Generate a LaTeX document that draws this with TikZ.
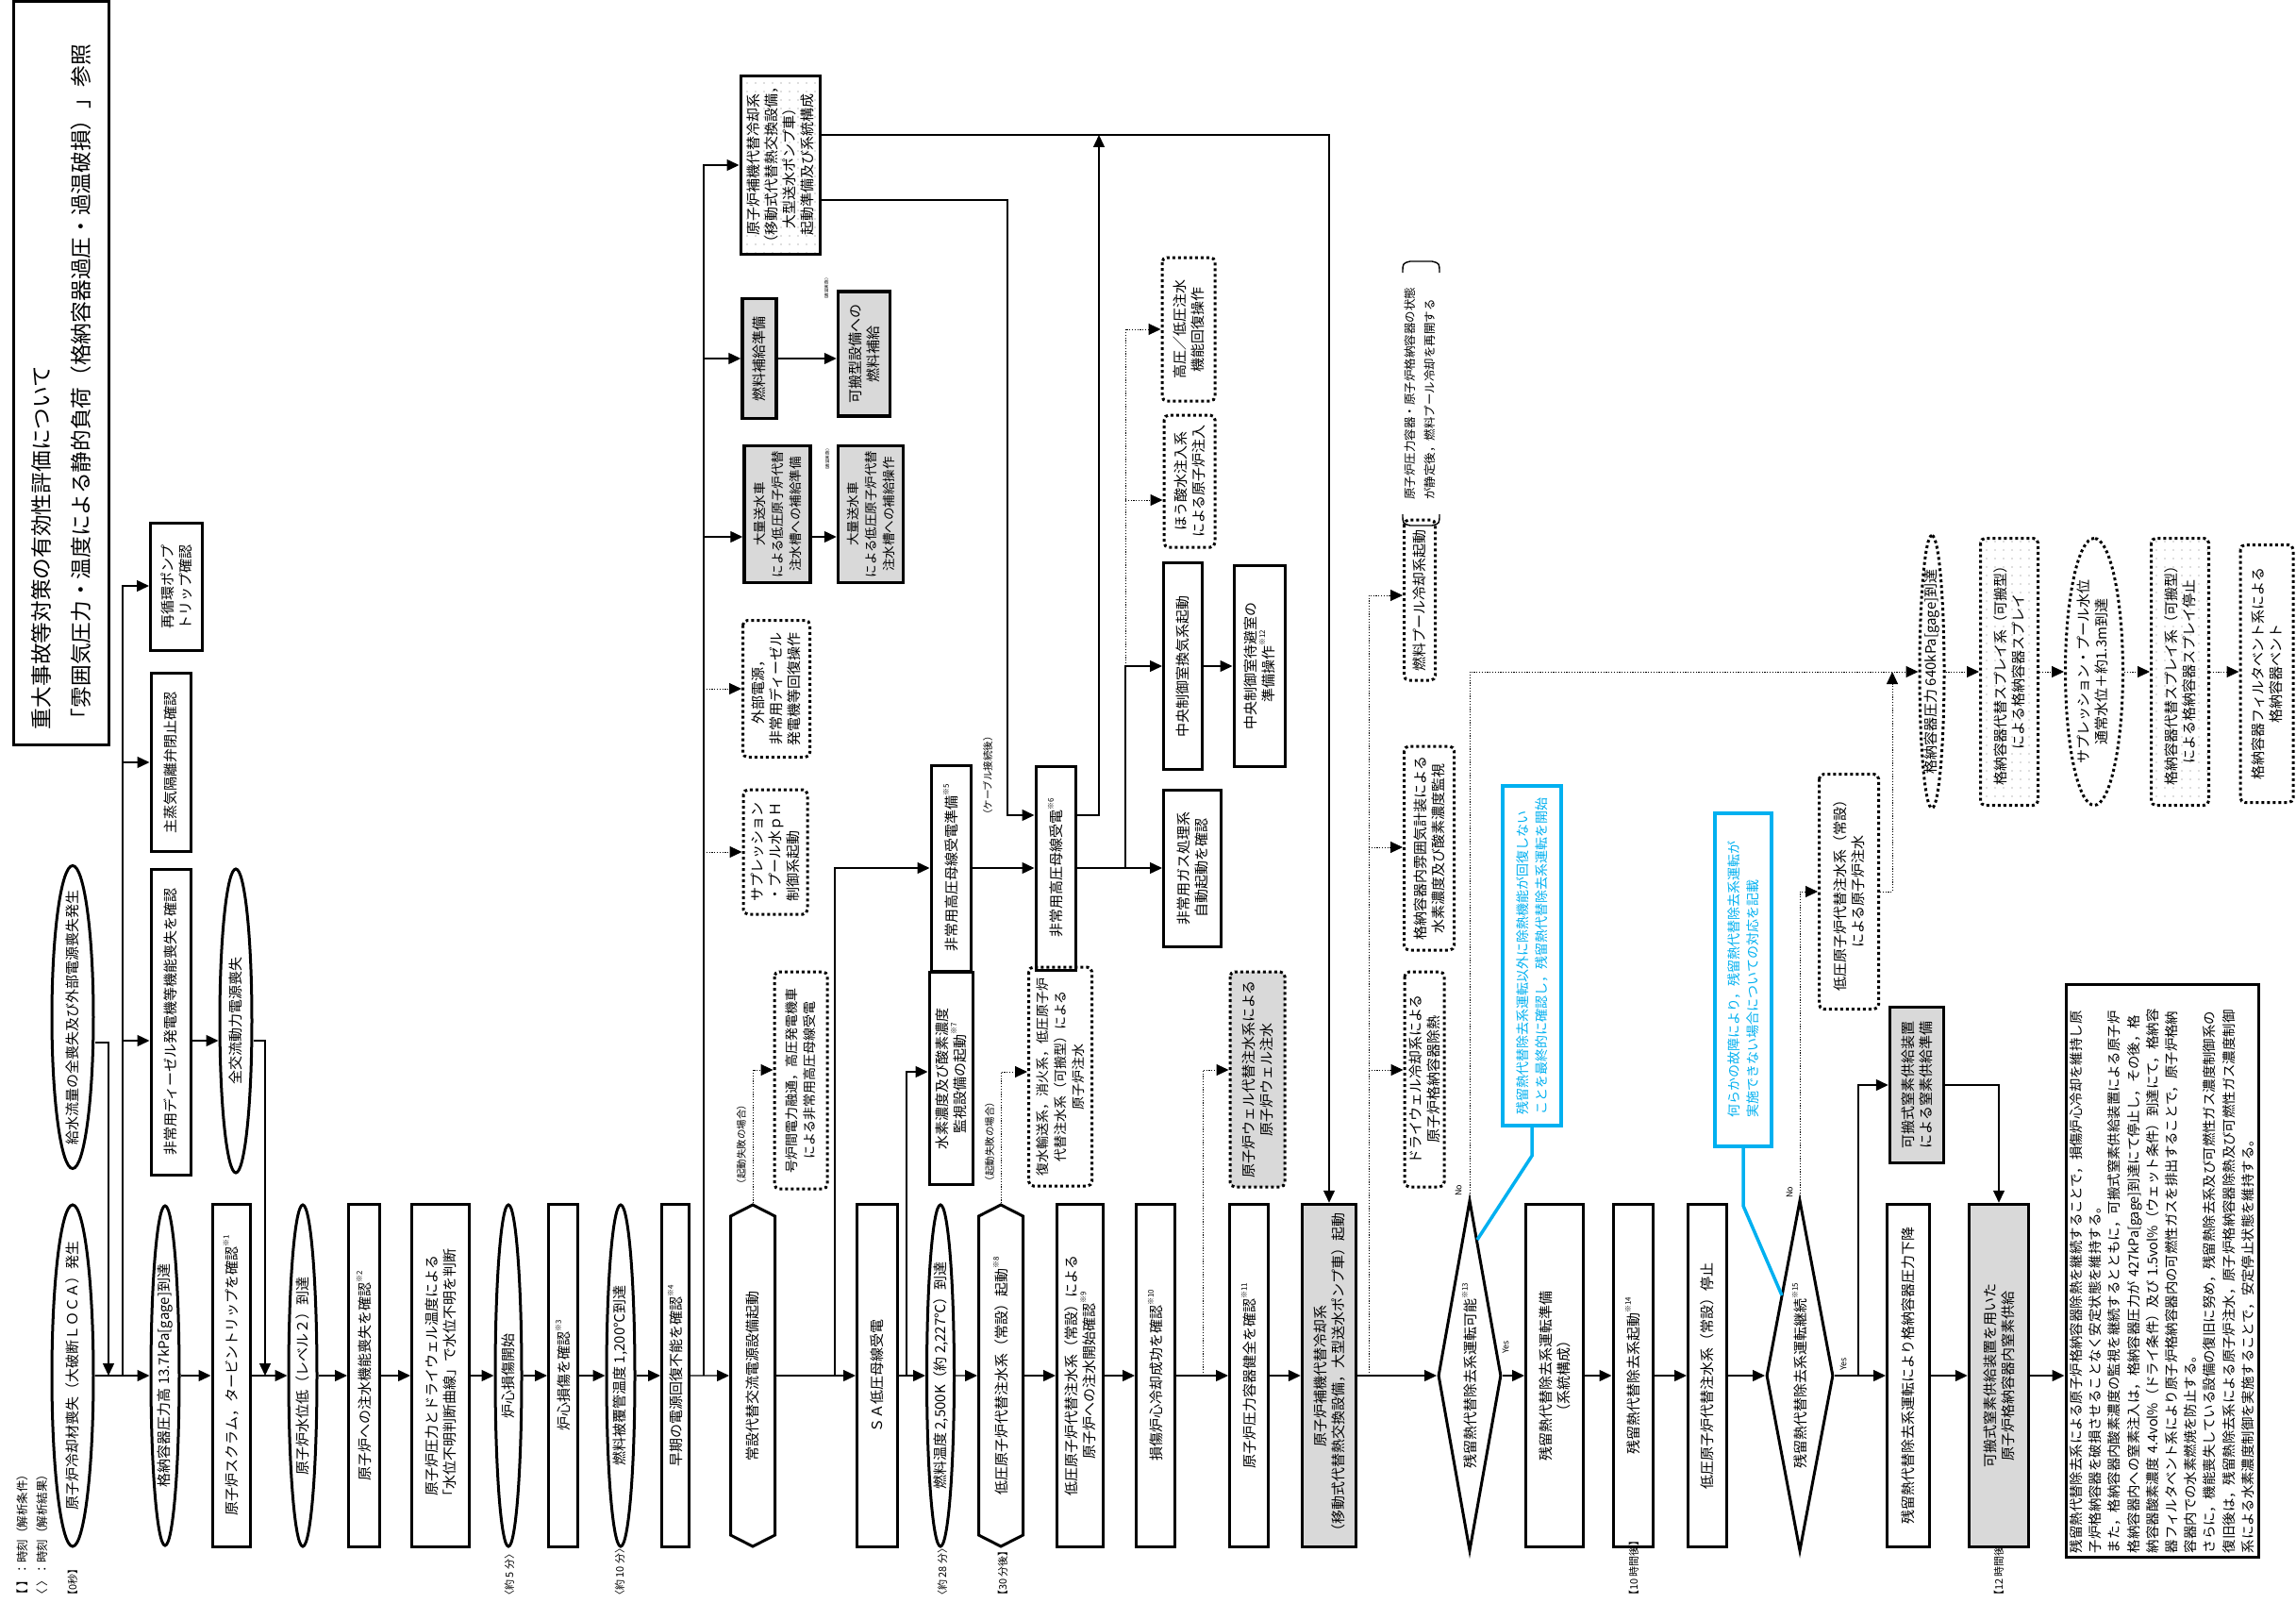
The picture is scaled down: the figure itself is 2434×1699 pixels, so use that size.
\documentclass[tikz,border=0pt]{standalone}
\usepackage{fontspec}
\setmainfont{Noto Sans CJK JP}
\usetikzlibrary{shapes.geometric,shapes.symbols,arrows.meta,patterns.meta}
\definecolor{gfill}{RGB}{217,217,217}
\definecolor{cblue}{RGB}{0,176,240}
\newcommand\zw[1]{\makebox[0pt]{#1}}
\newcommand\fnm[1]{\raisebox{0.6em}{\fontsize{8}{8}\selectfont ※#1}}
\newcommand\fsz[2]{\fontsize{#1}{#2}\selectfont}
\begin{document}
\begin{tikzpicture}[x=1pt,y=-1pt,
 wh/.style 2 args={minimum height=#1pt, minimum width=#2pt},
 base/.style={rotate=90, inner sep=1pt, font=\fsz{15}{19}},
 bx/.style={base, rectangle, draw, line width=3pt, align=center},
 gbx/.style={bx, fill=gfill, line width=3.5pt},
 dbx/.style={bx, rounded corners=5pt, dash pattern=on 3pt off 3pt},
 pbx/.style={pattern={Dots[distance=9pt,radius=0.6pt]}, pattern color=black!55},
 elp/.style={base, ellipse, draw, line width=3pt},
 delp/.style={elp, dash pattern=on 3pt off 3pt},
 hexa/.style={base, signal, signal to=east and west, signal pointer angle=126, draw, line width=3pt},
 dia/.style={base, diamond, draw, line width=3pt},
 blbx/.style={bx, draw=cblue, text=cblue, line width=4pt, align=left, font=\fsz{14}{20}},
 ln/.style={line width=1.4pt},
 arr/.style={ln, -{Triangle[length=13pt,width=12pt]}},
 dl/.style={line width=1pt, dash pattern=on 1.2pt off 1.6pt},
 darr/.style={dl, -{Triangle[length=13pt,width=12pt]}},
 bl/.style={line width=3.5pt, draw=cblue},
 sm/.style={rotate=90, inner sep=0pt, font=\fsz{10.5}{12}},
 tiny/.style={rotate=90, inner sep=0pt, font=\fsz{4.6}{5}},
 yn/.style={rotate=90, inner sep=0pt, font=\fsz{9}{9}},
 tl/.style={rotate=90, inner sep=0pt, anchor=west, font=\fsz{11}{11}},
]
\fill[white] (0,0) rectangle (2434,1699);
\useasboundingbox (0,0) rectangle (2434,1699);

% title
\node[draw, line width=3pt, rotate=90, minimum width=787pt, minimum height=101pt, align=left, text width=755pt, font=\fsz{22.7}{42}, inner sep=0pt] (ttl) at (64.5,395.5) {重大事故等対策の有効性評価について\\「雰囲気圧力・温度による静的負荷（格納容器過圧・過温破損）」参照};

% legend and time labels
\node[tl, font=\fsz{12.5}{12.5}] (lg1) at (24,1697) {【 】：時刻（解析条件）};
\node[tl, font=\fsz{12.5}{12.5}] (lg2) at (45,1697) {〈 〉：時刻（解析結果）};
\node[tl] (t0) at (77,1697) {【0秒】};
\node[tl] (t1) at (540,1697) {〈約 5 分〉};
\node[tl] (t2) at (657,1697) {〈約 10 分〉};
\node[tl] (t3) at (999,1697) {〈約 28 分〉};
\node[tl] (t4) at (1063,1697) {【30 分後】};
\node[tl] (t5) at (1732,1697) {【10 時間後】};
\node[tl] (t6) at (2119,1697) {【12 時間後】};

% main flow
\node[elp, wh={44}{362}] (a1) at (77,1458) {\zw{原子炉冷却材喪失（大破断ＬＯＣＡ）発生}};
\node[elp, wh={30}{360}] (a2) at (175,1458) {\zw{格納容器圧力高 13.7kPa[gage]到達}};
\node[bx, wh={40}{363}] (a3) at (245,1458) {原子炉スクラム，タービントリップを確認\fnm{1}};
\node[elp, wh={30}{362}] (a4) at (321,1458) {\zw{原子炉水位低（レベル２）到達}};
\node[bx, wh={33}{363}] (a5) at (386,1458) {原子炉への注水機能喪失を確認\fnm{2}};
\node[bx, wh={61}{363}] (a6) at (467,1458) {原子炉圧力とドライウェル温度による\\「水位不明判断曲線」で水位不明を判断};
\node[elp, wh={28}{362}] (a7) at (539,1458) {\zw{炉心損傷開始}};
\node[bx, wh={31}{363}] (a8) at (597,1458) {炉心損傷を確認\fnm{3}};
\node[elp, wh={30}{362}] (a9) at (658,1458) {\zw{燃料被覆管温度 1,200℃到達}};
\node[bx, wh={29}{363}] (a10) at (716,1458) {早期の電源回復不能を確認\fnm{4}};
\node[hexa, wh={47}{362}] (a11) at (798,1458) {常設代替交流電源設備起動};
\node[bx, wh={43}{363}] (a12) at (930,1458) {ＳＡ低圧母線受電};
\node[elp, wh={29}{362}] (a13) at (997,1458) {\zw{燃料温度 2,500K（約 2,227℃）到達}};
\node[hexa, wh={47}{362}] (a14) at (1061,1458) {低圧原子炉代替注水系（常設）起動\fnm{8}};
\node[bx, wh={49}{363}] (a15) at (1145,1458) {低圧原子炉代替注水系（常設）による\\原子炉への注水開始確認\fnm{9}};
\node[bx, wh={41}{363}] (a16) at (1225,1458) {損傷炉心冷却成功を確認\fnm{10}};
\node[bx, wh={41}{363}] (a17) at (1324,1458) {原子炉圧力容器健全を確認\fnm{11}};
\node[gbx, wh={57}{363}] (a18) at (1409,1458) {原子炉補機代替冷却系\\（移動式代替熱交換設備，大型送水ポンプ車）起動};
\node[dia, wh={67}{372}] (d1) at (1558,1458) {\zw{残留熱代替除去系運転可能\fnm{13}}};
\node[bx, wh={61}{363}] (a19) at (1648,1458) {残留熱代替除去系運転準備\\（系統構成）};
\node[bx, wh={42}{363}] (a20) at (1731,1458) {残留熱代替除去系起動\fnm{14}};
\node[bx, wh={41}{363}] (a21) at (1810,1458) {低圧原子炉代替注水系（常設）停止};
\node[dia, wh={71}{372}] (d2) at (1908,1458) {\zw{残留熱代替除去系運転継続\fnm{15}}};
\node[bx, wh={45}{363}] (a22) at (2023,1458) {残留熱代替除去系運転により格納容器圧力下降};
\node[gbx, wh={63}{363}] (a23) at (2119,1458) {可搬式窒素供給装置を用いた\\原子炉格納容器内窒素供給};
\node[bx, wh={204}{607}, align=left, text width=598pt, font=\fsz{14.4}{20.2}] (a24) at (2292,1347) {残留熱代替除去系による原子炉格納容器除熱を継続することで，損傷炉心冷却を維持し原\\子炉格納容器を破損させることなく安定状態を維持する。\\また，格納容器内酸素濃度の監視を継続するとともに，可搬式窒素供給装置による原子炉\\格納容器内への窒素注入は，格納容器圧力が 427kPa[gage]到達にて停止し，その後，格\\納容器酸素濃度 4.4vol\%（ドライ条件）及び 1.5vol\%（ウェット条件）到達にて，格納容\\器フィルタベント系により原子炉格納容器内の可燃性ガスを排出することで，原子炉格納\\容器内での水素燃焼を防止する。\\さらに，機能喪失している設備の復旧に努め，残留熱除去系及び可燃性ガス濃度制御系の\\復旧後は，残留熱除去系による原子炉注水，原子炉格納容器除熱及び可燃性ガス濃度制御\\系による水素濃度制御を実施することで，安定停止状態を維持する。};

\foreach \p/\q in {a1/a2,a2/a3,a3/a4,a4/a5,a5/a6,a6/a7,a7/a8,a8/a9,a9/a10,a10/a11,a11/a12,a12/a13,a13/a14,a14/a15,a15/a16,a16/a17,a17/a18,a18/d1,d1/a19,a19/a20,a20/a21,a21/d2,d2/a22,a22/a23}
  \draw[arr] (\p) -- (\q);
\draw[arr] (a23) -- (a24.north |- a23);

% upper left
\node[elp, wh={44}{321}] (b1) at (77,1078) {\zw{給水流量の全喪失及び外部電源喪失発生}};
\node[bx, wh={55}{135}] (c1) at (187,622) {再循環ポンプ\\トリップ確認};
\node[bx, wh={42}{189}] (c2) at (181,808) {主蒸気隔離弁閉止確認};
\node[bx, wh={42}{324}] (c3) at (181,1083) {非常用ディーゼル発電機等機能喪失を確認};
\node[elp, wh={34}{322}] (c4) at (250,1082) {\zw{全交流動力電源喪失}};
\coordinate (j1) at (115,1458);
\coordinate (j2) at (130,1458);
\coordinate (j3) at (281,1458);
\draw[arr] (b1.south |- 0,1105) -| (j1);
\draw[arr] (j2) |- (c1.north |- 0,621);
\draw[arr] (j2 |- c2) -- (c2);
\draw[arr] (j2 |- 0,1103) -- (c3.north |- 0,1103);
\draw[arr] (c3.south |- 0,1103) -- (c4.north |- 0,1103);
\draw[arr] (c4.south |- 0,1103) -| (j3);

% upper middle column
\node[bx, pbx, wh={84}{188}] (u1) at (827,175) {原子炉補機代替冷却系\\（移動式代替熱交換設備，\\大型送水ポンプ車）\\起動準備及び系統構成};
\node[gbx, wh={36}{127}] (u2) at (805,380) {燃料補給準備};
\node[gbx, wh={55}{132}] (u3) at (916,375) {可搬型設備への\\燃料補給};
\node[tiny] (l3) at (876,306) {（適宜実施）};
\node[gbx, wh={70}{145}, font=\fsz{13.5}{19}] (u4) at (824,545) {大量送水車\\による低圧原子炉代替\\注水槽への補給準備};
\node[gbx, wh={69}{145}, font=\fsz{13.5}{19}] (u5) at (923,545) {大量送水車\\による低圧原子炉代替\\注水槽への補給操作};
\node[tiny] (l4) at (877,487) {（適宜実施）};
\node[dbx, wh={71}{145}] (u6) at (823,730) {外部電源，\\非常用ディーゼル\\発電機等回復操作};
\node[dbx, wh={68}{132}, align=left] (u7) at (822,903) {サプレッション\\・プール水ｐＨ\\制御系起動};
\coordinate (j4) at (746,1458);
\draw[arr] (j4) |- (u1);
\draw[arr] (j4 |- u2) -- (u2);
\draw[arr] (j4 |- 0,569) -- (u4.north |- 0,569);
\draw[darr] (j4 |- u6) -- (u6);
\draw[darr] (j4 |- u7) -- (u7);
\draw[arr] (u2) -- (u3.north |- u2);
\draw[arr] (u4.south |- 0,569) -- (u5.north |- 0,569);

% power bus
\node[bx, wh={42}{218}] (v1) at (1008,920) {非常用高圧母線受電準備\fnm{5}};
\node[bx, wh={42}{216}] (v2) at (1119,920) {非常用高圧母線受電\fnm{6}};
\node[sm] (l5) at (1047,822) {（ケーブル接続後）};
\coordinate (j5) at (885,1458);
\draw[arr] (j5) |- (v1);
\draw[arr] (v1) -- (v2);
\draw[arr] (u1.south |- 0,212) -- (1068,212) -- (1068,864) -- (v2.north |- 0,864);
\draw[arr] (v2.south |- 0,864) -- (1165,864) -- (1165,143);
\draw[arr] (u1.south |- 0,143) -| (a18.east);

\node[bx, wh={61}{166}] (w1) at (1264,920) {非常用ガス処理系\\自動起動を確認};
\node[bx, wh={41}{219}] (w2) at (1254,706) {中央制御室換気系起動};
\node[bx, wh={54}{213}] (w3) at (1335,706) {中央制御室待避室の\\準備操作\fnm{12}};
\node[dbx, wh={56}{152}] (w4) at (1260,349) {高圧／低圧注水\\機能回復操作};
\node[dbx, wh={54}{140}] (w5) at (1261,510) {ほう酸水注入系\\による原子炉注入};
\coordinate (j6) at (1193,920);
\draw[arr] (v2) -- (w1);
\draw[arr] (j6) |- (w2);
\draw[arr] (w2) -- (w3);
\draw[darr] (j6 |- w2) |- (w4);
\draw[darr] (j6 |- 0,530) -- (w5.north |- 0,530);

% branches above main flow
\node[dbx, wh={56}{230}, font=\fsz{14}{19}] (x1) at (849,1145) {号炉間電力融通，高圧発電機車\\による非常用高圧母線受電};
\node[sm] (l1) at (786,1213) {（起動失敗の場合）};
\node[bx, wh={46}{225}] (x2) at (1008,1143) {水素濃度及び酸素濃度\\監視設備の起動\fnm{7}};
\node[dbx, wh={67}{232}, font=\fsz{14}{19}] (x3) at (1124,1141) {復水輸送系，消火系，低圧原子炉\\代替注水系（可搬型）による\\原子炉注水};
\node[sm] (l2) at (1049,1210) {（起動失敗の場合）};
\node[dbx, fill=gfill, wh={58}{228}] (y1) at (1333,1144) {原子炉ウェル代替注水系による\\原子炉ウェル注水};
\node[dbx, wh={42}{228}] (y2) at (1510,1144) {ドライウェル冷却系による\\原子炉格納容器除熱};
\node[dbx, wh={53}{216}] (y3) at (1515,899) {格納容器内雰囲気計装による\\水素濃度及び酸素濃度監視};
\node[dbx, wh={33}{170}] (y4) at (1505,636) {燃料プール冷却系起動};
\draw[darr] (a11.east) |- (x1.north |- 0,1134);
\coordinate (j7) at (961,1458);
\draw[arr] (j7) |- (x2.north |- 0,1136);
\draw[darr] (a14.east) |- (x3.north |- 0,1136);
\coordinate (j8) at (1275,1458);
\draw[darr] (j8) |- (y1.north |- 0,1134);
\coordinate (j9) at (1451,1458);
\draw[darr] (j9) |- (y4.north |- 0,631);
\draw[darr] (j9 |- 0,898) -- (y3.north |- 0,898);
\draw[darr] (j9 |- 0,1134) -- (y2.north |- 0,1134);

% note with brackets
\node[rotate=90, align=left, inner sep=0pt, font=\fsz{12.5}{21}] (nt) at (1505.5,417) {原子炉圧力容器・原子炉格納容器の状態\\が静定後，燃料プール冷却を再開する};
\draw[ln] (1487,289) .. controls (1487,279) .. (1495,277) -- (1518,277) .. controls (1526,279) .. (1526,289);
\draw[ln] (1487,545) .. controls (1487,555) .. (1495,557) -- (1518,557) .. controls (1526,555) .. (1526,545);

% right upper chain
\node[delp, wh={26}{289}] (e1) at (2048,712) {\zw{格納容器圧力 640kPa[gage]到達}};
\node[dbx, pbx, wh={61}{283}] (e2) at (2130,712) {格納容器代替スプレイ系（可搬型）\\による格納容器スプレイ};
\node[delp, wh={61}{283}] (e3) at (2220,712) {\zw{\begin{tabular}{@{}c@{}}サプレッション・プール水位\\通常水位＋約1.3m到達\end{tabular}}};
\node[dbx, pbx, wh={61}{283}] (e4) at (2311,712) {格納容器代替スプレイ系（可搬型）\\による格納容器スプレイ停止};
\node[dbx, wh={56}{273}] (e5) at (2403,714) {格納容器フィルタベント系による\\格納容器ベント};
\draw[darr] (d1.east) |- (e1);
\draw[darr] (e1) -- (e2);
\draw[darr] (e2) -- (e3);
\draw[darr] (e3) -- (e4);
\draw[darr] (e4) -- (e5.north |- e4);
\node[yn] (no1) at (1546,1262) {No};
\node[yn] (yes1) at (1596,1428) {Yes};

% blue notes
\node[blbx, wh={62}{360}] (bl1) at (1624,1013) {残留熱代替除去系運転以外に除熱機能が回復しない\\ことを最終的に確認し，残留熱代替除去系運転を開始};
\node[blbx, wh={60}{353}] (bl2) at (1848,1038) {何らかの故障により，残留熱代替除去系運転が\\実施できない場合についての対応を記載};
\coordinate (d1p) at (1566,1314);
\coordinate (d2p) at (1889,1373);
\draw[bl] (bl1.west) -- (bl1.west |- 0,1225) -- (d1p);
\draw[bl] (bl2.west) -- (bl2.west |- 0,1278) -- (d2p);

% second decision branches
\node[dbx, wh={63}{249}] (z1) at (1960,945) {低圧原子炉代替注水系（常設）\\による原子炉注水};
\node[gbx, wh={57}{165}] (z2) at (2032,1150) {可搬式窒素供給装置\\による窒素供給準備};
\coordinate (z1up) at (2006,712);
\draw[darr] (d2.east) |- (z1);
\draw[darr] (z1.south) -| (z1up);
\coordinate (j10) at (1970,1458);
\draw[arr] (j10) |- (z2);
\draw[arr] (z2) -| (a23.east);
\node[yn] (no2) at (1897,1264) {No};
\node[yn] (yes2) at (1954,1446) {Yes};
\end{tikzpicture}
\end{document}
